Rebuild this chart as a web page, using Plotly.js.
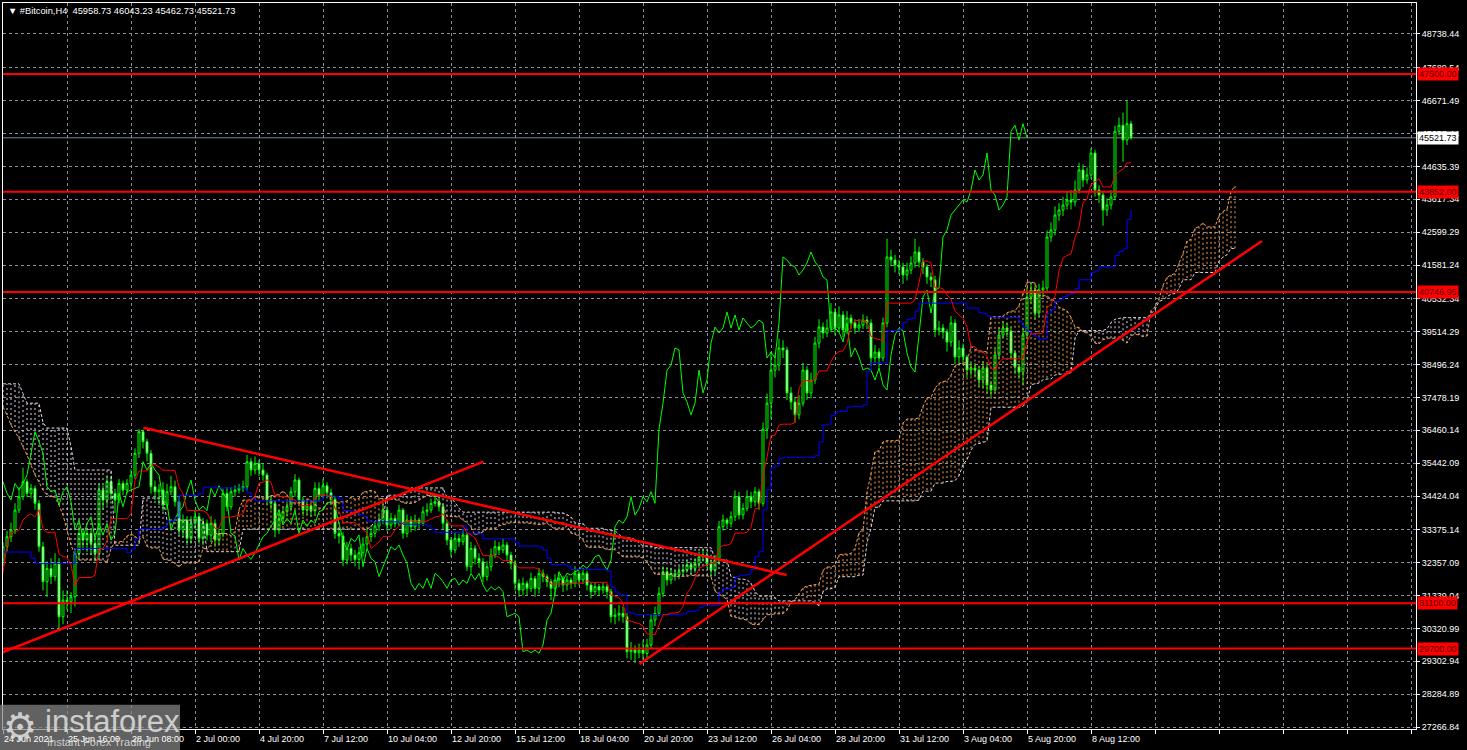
<!DOCTYPE html>
<html><head><meta charset="utf-8">
<script src="https://cdn.plot.ly/plotly-3.0.1.min.js"></script>
<style>html,body{margin:0;padding:0;background:#000;}#chart{width:1467px;height:750px;}</style>
</head><body><div id="chart"></div>
<script>
const symbol = "#Bitcoin,H4";
const opens = [
32440,32854,33164,33370,33990,34403,34868,34506,34662,34197,
32854,31769,32182,31924,32337,30684,31201,31149,31304,32647,
33267,33060,33267,32957,32647,34610,34300,34868,34506,34300,
34816,34610,34816,35075,35746,36418,36108,35746,34713,34558,
34610,34145,34558,34713,34248,33370,33680,33112,33577,33784,
33112,33577,33215,33577,33060,33267,34506,34093,34558,34610,
34662,34713,35488,35230,35436,35230,35075,34300,34197,33370,
33732,33938,34093,34558,34920,34300,33990,34114,33969,34662,
34424,34744,34527,34320,33267,33184,32440,32802,32596,32461,
32668,32936,33164,33267,33494,33660,33991,33526,33733,33578,
33991,33268,33681,33475,33681,33578,33939,33991,34197,34249,
34094,33578,33062,32751,33113,33010,33216,32235,32803,32493,
32390,31925,32235,32597,32855,32751,32906,32597,32338,31719,
31512,31719,31564,31873,31564,32028,31925,31770,31564,31822,
31873,31667,31822,31719,32028,31822,32028,31667,31461,31616,
31512,31616,31461,30686,30738,30790,30686,29602,29653,29571,
29653,29550,29808,30583,30790,31409,32080,31822,32028,31977,
32080,32132,32287,32183,32338,32545,32597,32338,32132,32441,
33474,33681,33578,33784,34404,33836,34042,34404,34249,34559,
34197,36500,37300,38320,38480,39010,38950,37617,37338,36940,
37300,38328,37617,38019,39164,39660,39475,39630,40125,39630,
40033,39568,39940,39785,39630,39722,39877,39785,38700,38886,
38700,39785,41830,41736,41582,41520,41272,41427,41644,41984,
41675,41520,41210,41117,39568,39630,39506,39196,39785,38731,
39010,38731,38328,38390,38328,38019,38390,37864,37709,38793,
39413,39630,39537,38855,38421,38266,39413,40590,40807,40094,
40807,40868,42449,42666,43130,43285,43440,43595,43533,43905,
44525,44215,44370,45050,43905,43750,43285,43440,43688,45724,
45910,45454,45958.73];
const highs = [
33000,33350,33600,34200,34700,35300,34950,34800,34750,34300,
33000,32400,32500,32650,32500,31500,31500,31450,32800,33500,
33400,33450,33400,33100,34800,34750,35050,35000,34650,34950,
34900,34950,35250,35900,36500,36480,36200,35850,34900,34800,
34850,34800,35050,34900,34400,33850,33800,33800,34000,33900,
33750,33700,33800,33700,33400,34650,34700,34700,34750,34800,
34900,35700,35600,35650,35550,35450,35150,34450,34300,33900,
34100,34250,34700,35100,35000,34400,34300,34250,34850,34850,
34950,34850,34650,34400,33450,33300,33000,32950,32750,32850,
33150,33400,33450,33650,33850,34200,34100,33900,33850,34150,
34050,33850,33800,33850,33750,34100,34200,34350,34450,34400,
34200,33700,33150,33300,33250,33400,33300,33000,32900,32650,
32500,32400,32800,33050,33000,33100,33000,32700,32450,31850,
31900,31800,32050,31950,32200,32150,32000,31850,32000,32050,
31950,31950,31900,32250,32100,32200,32100,31750,31750,31700,
31750,31700,31550,30950,31050,31000,30800,29900,29800,29850,
29950,30000,30750,31000,31600,32250,32200,32200,32150,32250,
32300,32450,32400,32500,32700,32800,32700,32450,32600,33650,
33850,33750,33950,34600,34550,34200,34600,34550,34700,34650,
36700,37600,38900,38800,39300,39250,39050,37800,37500,37550,
38550,38450,38250,39350,39900,39800,39900,40400,40250,40300,
40150,40150,40050,39900,39900,40050,40000,39900,39100,39000,
39950,42400,42050,41900,41750,41650,41650,41850,42400,42150,
41800,41600,41350,41250,39850,39750,39600,40000,39900,39250,
39150,38800,38550,38550,38450,38600,38500,38000,39000,39650,
39850,39800,39650,38950,38500,39650,40850,41050,40950,41000,
41100,42650,42900,43400,43500,43700,43850,43900,44200,44750,
44700,44600,45200,45150,44050,43850,43650,43900,45900,46150,
46300,46690,46043.23];
const lows = [
32250,32700,33000,33250,33900,34300,34400,34350,34000,32700,
31500,31300,31700,31800,30300,30450,30900,30800,31000,32500,
32800,32700,32600,32400,32500,34000,34150,34300,33900,34200,
34450,34500,34650,34950,35600,35900,35500,34500,34300,34150,
33950,34000,34450,34100,33200,33150,32900,32950,33400,32950,
32900,33050,33000,32850,32900,33150,33950,34000,34400,34500,
34550,34600,35050,35100,35050,34900,34150,34000,33150,33250,
33600,33800,33950,34400,34100,33800,33850,33800,33850,34250,
34350,34350,34150,33100,32950,32250,32300,32400,32250,32150,
32550,32800,33000,33150,33350,33550,33350,33400,33450,33500,
33100,33150,33300,33350,33400,33500,33800,33900,34100,33950,
33400,32900,32550,32650,32850,32900,32100,32050,32300,32200,
31750,31800,32100,32500,32600,32650,32400,32150,31500,31300,
31350,31350,31450,31300,31400,31750,31600,31200,31350,31600,
31450,31500,31550,31600,31650,31700,31500,31250,31350,31350,
31400,31250,30500,30450,30550,30500,29400,29350,29250,29400,
29350,29400,29700,30400,30700,31300,31650,31700,31800,31850,
31950,32050,32000,32050,32200,32400,32200,31950,32000,32300,
33350,33400,33450,33650,33700,33700,33950,34050,34100,34000,
34100,36200,36800,38100,38300,38700,37400,37100,36700,36800,
37200,37400,37450,37900,39000,39300,39350,39500,39400,39500,
39350,39450,39600,39450,39500,39600,39600,38450,38550,38400,
38600,39650,41550,41350,41300,41000,41100,41300,41500,41500,
41300,41000,40900,39350,39400,39300,38900,39050,38500,38550,
38500,38100,38150,38100,37800,37750,37600,37500,37600,38650,
39300,39350,38650,38200,38050,37850,39300,40400,39900,39950,
40650,40750,42300,42500,42950,43100,43300,43300,43400,43800,
44000,44100,44250,43700,43500,42800,43100,43300,43600,45600,
44780,45300,45462.73];
const closes = [
32854,33164,33370,33990,34403,34868,34506,34662,34197,32854,
31769,32182,31924,32337,30684,31201,31149,31304,32647,33267,
33060,33267,32957,32647,34610,34300,34868,34506,34300,34816,
34610,34816,35075,35746,36418,36108,35746,34713,34558,34610,
34145,34558,34713,34248,33370,33680,33112,33577,33784,33112,
33577,33215,33577,33060,33267,34506,34093,34558,34610,34662,
34713,35488,35230,35436,35230,35075,34300,34197,33370,33732,
33938,34093,34558,34920,34300,33990,34114,33969,34662,34424,
34744,34527,34320,33267,33184,32440,32802,32596,32461,32668,
32936,33164,33267,33494,33660,33991,33526,33733,33578,33991,
33268,33681,33475,33681,33578,33939,33991,34197,34249,34094,
33578,33062,32751,33113,33010,33216,32235,32803,32493,32390,
31925,32235,32597,32855,32751,32906,32597,32338,31719,31512,
31719,31564,31873,31564,32028,31925,31770,31564,31822,31873,
31667,31822,31719,32028,31822,32028,31667,31461,31616,31512,
31616,31461,30686,30738,30790,30686,29602,29653,29571,29653,
29550,29808,30583,30790,31409,32080,31822,32028,31977,32080,
32132,32287,32183,32338,32545,32597,32338,32132,32441,33474,
33681,33578,33784,34404,33836,34042,34404,34249,34559,34197,
36500,37300,38320,38480,39010,38950,37617,37338,36940,37300,
38328,37617,38019,39164,39660,39475,39630,40125,39630,40033,
39568,39940,39785,39630,39722,39877,39785,38700,38886,38700,
39785,41830,41736,41582,41520,41272,41427,41644,41984,41675,
41520,41210,41117,39568,39630,39506,39196,39785,38731,39010,
38731,38328,38390,38328,38019,38390,37864,37709,38793,39413,
39630,39537,38855,38421,38266,39413,40590,40807,40094,40807,
40868,42449,42666,43130,43285,43440,43595,43533,43905,44525,
44215,44370,45050,43905,43750,43285,43440,43688,45724,45910,
45454,45958.73,45521.73];

// Ichimoku values before the first visible bar
const tenkanSeed = [32040,32908,33310,33310,33372,33682,33806,33868];
const kijunSeed = [32690,32690,32690,32690,32690,32690,32690,32500,32330,32330,32330,32330,32330,32330,32330,32330,32330,32330,32800,32800,32800,32800,32800,32800,32800];
const spanASeed = [37182,36935,36625,36408,36213,35943,35695,35385,35076,34859,34611,34456,34394,34394,34146,33836,33372,32907,32597,32442,32442,32442,32442,32442,32442,32442];
const spanBSeed = [37900,37900,37900,37900,37900,37600,37300,37300,37300,37300,36700,36530,36530,36530,36530,36530,36530,35950,
35230,35230,35230,35230,35230,35230,35230,35230,35230,35230,32900,32900,32900,32900,32900,32900,32900,
34360,34360,34360,34360,34360,34360,33680,33680,33680,33680,33680,33680,33680,33680,33680,33680,
32700,32700,32700,32700,32700,32700,32700,32700,32700,
33400,33400,33400,33400,33400,33400,33400,33400,33400,33400,33400,33400,33400,33400,33400,33400,33400];

const timeLabels = ["24 Jun 2021","25 Jun 16:00","28 Jun 08:00","2 Jul 00:00","4 Jul 20:00","7 Jul 12:00","10 Jul 04:00","12 Jul 20:00","15 Jul 12:00","18 Jul 04:00","20 Jul 20:00","23 Jul 12:00","26 Jul 04:00","28 Jul 20:00","31 Jul 12:00","3 Aug 04:00","5 Aug 20:00","8 Aug 12:00"];
const labelStep = 16;
const priceTicks = ["48738.44","47689.54","46671.49","45653.44","44635.39","43617.34","42599.29","41581.24","40532.34","39514.29","38496.24","37478.19","36460.14","35442.09","34424.04","33375.14","32357.09","31339.04","30320.99","29302.94","28284.89","27266.84"];
const levels = [47500, 43852, 40746.95, 31100, 29700];
// trend lines: [barStart, priceStart, barEnd, priceEnd]
const trendLines = [[-0.75,29552,120.1,35488],[35.1,36541,195.9,31978],[159.1,29220,314.75,42325]];

const N = closes.length;
const bars = closes.map((_, i) => i);
function mid(a, b) { let h = -Infinity, l = Infinity; for (let k = a; k <= b; k++) { h = Math.max(h, highs[k]); l = Math.min(l, lows[k]); } return (h + l) / 2; }
const tenkan = bars.map(i => i >= 8 ? mid(i - 8, i) : tenkanSeed[i]);
const kijun = bars.map(i => i >= 25 ? mid(i - 25, i) : kijunSeed[i]);
const D = N + 26;
const spanA = [], spanB = [], dBars = [];
for (let j = 0; j < D; j++) {
  dBars.push(j);
  spanA.push(j >= 26 ? (tenkan[j - 26] + kijun[j - 26]) / 2 : spanASeed[j]);
  spanB.push(j >= 77 ? mid(j - 77, j - 26) : spanBSeed[j]);
}
const hx1 = [], hy1 = [], hx2 = [], hy2 = [];
for (let j = 0; j < D; j++) {
  if (spanA[j] >= spanB[j]) { hx1.push(j, j, null); hy1.push(spanA[j], spanB[j], null); }
  else { hx2.push(j, j, null); hy2.push(spanA[j], spanB[j], null); }
}
const chX = [], chY = [];
for (let i = 26; i < N; i++) { chX.push(i - 26); chY.push(closes[i]); }

const SAND = '#f7a254', THISTLE = '#e2d2e2';
const traces = [
  {type:'scatter', mode:'lines', x:hx1, y:hy1, line:{color:SAND, width:1, dash:'2px,3px'}, hoverinfo:'skip'},
  {type:'scatter', mode:'lines', x:hx2, y:hy2, line:{color:THISTLE, width:1, dash:'2px,3px'}, hoverinfo:'skip'},
  {type:'scatter', mode:'lines', x:dBars, y:spanA, line:{color:SAND, width:1, dash:'3px,2px'}, hoverinfo:'skip'},
  {type:'scatter', mode:'lines', x:dBars, y:spanB, line:{color:THISTLE, width:1, dash:'3px,2px'}, hoverinfo:'skip'},
  {type:'scatter', mode:'lines', x:chX, y:chY, line:{color:'#00ff00', width:1}, hoverinfo:'skip'},
  {type:'scatter', mode:'lines', x:bars, y:kijun, line:{color:'#0000ff', width:1, shape:'hv'}, hoverinfo:'skip'},
  {type:'scatter', mode:'lines', x:bars, y:tenkan, line:{color:'#ff0000', width:1}, hoverinfo:'skip'},
  {type:'candlestick', x:bars, open:opens, high:highs, low:lows, close:closes,
   increasing:{line:{color:'#00ff00', width:1}, fillcolor:'#000000'},
   decreasing:{line:{color:'#00ff00', width:1}, fillcolor:'#ffffff'}, hoverinfo:'skip'}
];

const FONT = 'Liberation Sans, Arial, sans-serif';
const shapes = [];
levels.forEach(v => shapes.push({type:'line', xref:'paper', x0:0, x1:1, yref:'y', y0:v, y1:v, line:{color:'#ff0000', width:2}, layer:'above'}));
trendLines.forEach(t => shapes.push({type:'line', xref:'x', yref:'y', x0:t[0], y0:t[1], x1:t[2], y1:t[3], line:{color:'#ff0000', width:2.5}, layer:'above'}));
const last = closes[N - 1];
shapes.push({type:'line', xref:'paper', x0:0, x1:1, yref:'y', y0:last, y1:last, line:{color:'#778899', width:1}, layer:'below'});
// logo box
shapes.push({type:'rect', xref:'paper', yref:'paper', x0:-0.0022, x1:0.1253, y0:-0.03, y1:0.0335, fillcolor:'rgba(135,135,135,0.72)', line:{width:0}, layer:'above'});

const annotations = [];
timeLabels.forEach((t, k) => annotations.push({x:k * labelStep, y:0, xref:'x', yref:'paper', xanchor:'left', yanchor:'top', yshift:-3, xshift:-1, text:t, showarrow:false, font:{family:FONT, size:9, color:'#ffffff'}}));
levels.forEach(v => annotations.push({x:1, y:v, xref:'paper', yref:'y', xanchor:'left', yanchor:'middle', xshift:1, text:v.toFixed(2), showarrow:false, bgcolor:'#ff0000', borderpad:1, font:{family:FONT, size:9, color:'#5a0000'}}));
annotations.push({x:1, y:last, xref:'paper', yref:'y', xanchor:'left', yanchor:'middle', xshift:1, text:last.toFixed(2), showarrow:false, bgcolor:'#ffffff', borderpad:1, font:{family:FONT, size:9, color:'#000000'}});
annotations.push({x:0, y:1, xref:'paper', yref:'paper', xanchor:'left', yanchor:'top', xshift:3, yshift:-1,
  text:'▼ ' + symbol + '  ' + opens[N-1].toFixed(2) + ' ' + highs[N-1].toFixed(2) + ' ' + lows[N-1].toFixed(2) + ' ' + closes[N-1].toFixed(2),
  showarrow:false, font:{family:'Liberation Sans, DejaVu Sans, sans-serif', size:9.3, color:'#ffffff'}});
annotations.push({x:0.0, y:0.0, xref:'paper', yref:'paper', xanchor:'left', yanchor:'middle', xshift:-2, yshift:2, text:'⚙', showarrow:false, font:{family:'DejaVu Sans', size:38, color:'rgba(225,225,225,0.85)'}});
annotations.push({x:0.0, y:0.0, xref:'paper', yref:'paper', xanchor:'left', yanchor:'middle', xshift:40, yshift:8, text:'instaforex', showarrow:false, font:{family:FONT, size:31, color:'rgba(225,225,225,0.85)'}});
annotations.push({x:0.0, y:0.0, xref:'paper', yref:'paper', xanchor:'left', yanchor:'middle', xshift:42, yshift:-13, text:'Instant Forex Trading', showarrow:false, font:{family:FONT, size:11, color:'rgba(225,225,225,0.85)'}});

const gridBars = [];
for (let b = 0; b <= 352; b += labelStep) gridBars.push(b);

const GRID = '#87909c';
const layout = {
  width:1467, height:750, margin:{l:3, r:51, t:3, b:21}, paper_bgcolor:'#000000', plot_bgcolor:'#000000', showlegend:false,
  xaxis:{range:[0, 353.25], tickvals:gridBars, showticklabels:false, ticks:'outside', ticklen:4, tickcolor:'#ffffff',
    showgrid:true, gridcolor:GRID, griddash:'3px,3px', gridwidth:1, zeroline:false, showline:true, linecolor:'#ffffff', linewidth:1, mirror:true,
    rangeslider:{visible:false}, fixedrange:true},
  yaxis:{side:'right', range:[27207, 49698], tickvals:priceTicks.map(Number), ticktext:priceTicks, ticks:'outside', ticklen:3, tickcolor:'#ffffff',
    tickfont:{family:FONT, size:9, color:'#ffffff'}, showgrid:true, gridcolor:GRID, griddash:'3px,3px', gridwidth:1, zeroline:false,
    showline:true, linecolor:'#ffffff', linewidth:1, mirror:true, fixedrange:true},
  boxgap:0.3, shapes:shapes, annotations:annotations
};
Plotly.newPlot('chart', traces, layout, {displayModeBar:false, staticPlot:true});
</script></body></html>
